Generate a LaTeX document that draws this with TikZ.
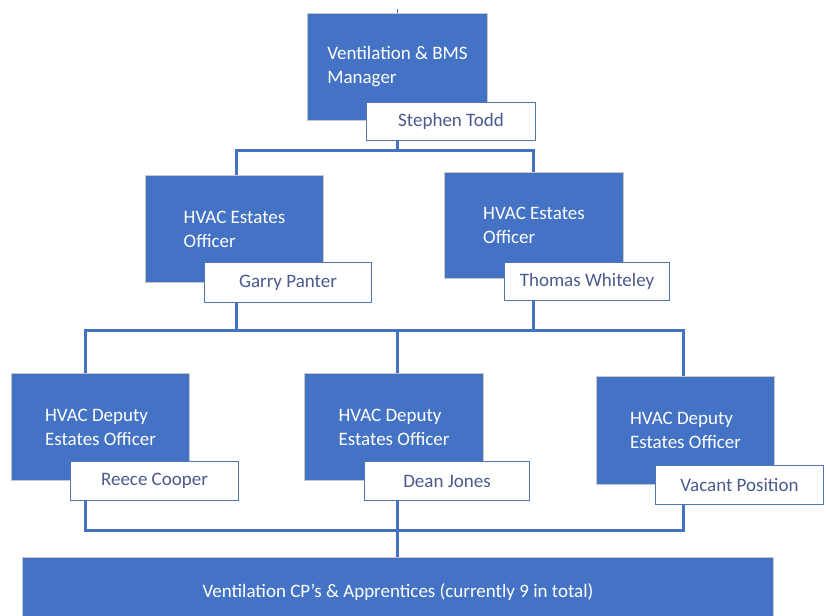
\documentclass[tikz,border=0pt]{standalone}
\usepackage{fontspec}
\setmainfont{Carlito}
\definecolor{obl}{HTML}{4472C4}
\definecolor{ntxt}{HTML}{4B5A8C}
\definecolor{gbord}{HTML}{C8C8C8}
\begin{document}
\begin{tikzpicture}[x=1pt,y=-1pt,
  bluebox/.style={draw=gbord,line width=1pt,fill=obl,text=white,inner sep=0pt,anchor=north west,align=left,font=\fontsize{19}{24}\selectfont},
  namebox/.style={draw=obl!80!gray,line width=1pt,fill=white,text=ntxt,inner sep=0pt,anchor=north west,font=\fontsize{19}{22}\selectfont},
  conn/.style={draw=obl,line width=3pt}]
\useasboundingbox[fill=white] (0,0) rectangle (826,615);
% boxes
\node[bluebox,minimum width=180pt,minimum height=107pt] (m) at (307,13) {Ventilation \& BMS\\Manager};
\node[namebox,minimum width=169pt,minimum height=38pt] (st) at (366,102) {Stephen Todd};
\node[bluebox,minimum width=178pt,minimum height=107pt] (e1) at (145,175) {HVAC Estates\\Officer};
\node[namebox,minimum width=167pt,minimum height=40pt] (gp) at (204,262) {Garry Panter};
\node[bluebox,minimum width=179pt,minimum height=106pt] (e2) at (444,172) {HVAC Estates\\Officer};
\node[namebox,minimum width=165pt,minimum height=38pt] (tw) at (504,262) {Thomas Whiteley};
\node[bluebox,minimum width=178pt,minimum height=107pt] (d1) at (11,373) {HVAC Deputy\\Estates Officer};
\node[namebox,minimum width=168pt,minimum height=39pt] (rc) at (70,461) {Reece Cooper};
\node[bluebox,minimum width=179pt,minimum height=107pt] (d2) at (304,373) {HVAC Deputy\\Estates Officer};
\node[namebox,minimum width=165pt,minimum height=39pt] (dj) at (364,461) {Dean Jones};
\node[bluebox,minimum width=178pt,minimum height=108pt] (d3) at (596,376) {HVAC Deputy\\Estates Officer};
\node[namebox,minimum width=168pt,minimum height=39pt] (vp) at (655,465) {Vacant Position};
\node[bluebox,minimum width=751pt,minimum height=70pt,align=center] (ap) at (22,557) {Ventilation CP’s \& Apprentices (currently 9 in total)};
% junctions
\coordinate (top) at (397,9);
\coordinate (j1) at (397,150);
\coordinate (j2) at (397,330);
\coordinate (j3) at (397,530);
\coordinate (xl) at (85,0);
\coordinate (xr) at (683,0);
\coordinate (xe1) at (236,0);
\coordinate (xe2) at (533,0);
% connectors
\draw[draw=obl,line width=1pt] (top) -- (top |- m.north);
\draw[conn] (j1 |- st.south) -- (j1);
\draw[conn] (xe1 |- e1.north) |- (j1) -| (xe2 |- e2.north);
\draw[conn] (xe1 |- gp.south) |- (j2);
\draw[conn] (xe2 |- tw.south) |- (j2);
\draw[conn] (xl |- d1.north) |- (j2) -| (xr |- d3.north);
\draw[conn] (j2) -- (j2 |- d2.north);
\draw[conn] (xl |- rc.south) |- (j3) -| (xr |- vp.south);
\draw[conn] (j3 |- dj.south) -- (j3 |- ap.north);
\end{tikzpicture}
\end{document}
